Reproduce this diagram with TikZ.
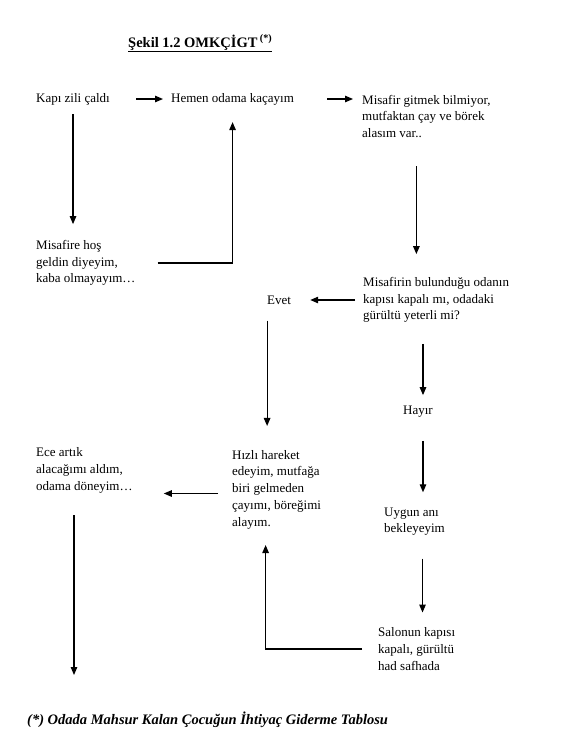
\documentclass[tikz,border=0pt]{standalone}
\usepackage{fontspec}
\setmainfont{Liberation Serif}
\usepackage{tikz}
\usetikzlibrary{arrows.meta, positioning, calc}

\begin{document}
\begin{tikzpicture}[x=1pt, y=-1pt,
    txt/.style={anchor=west, align=left, inner sep=0pt, font=\fontsize{13}{16.7}\selectfont},
    flow/.style={-{Triangle[length=8pt, width=6.5pt]}, line width=1.2pt}]
  \useasboundingbox (0,0) rectangle (566,748);

  % Title
  \node[anchor=base west, inner sep=0pt, font=\fontsize{14.5}{16}\selectfont\bfseries] (title) at (128,47)
    {\underline{Şekil 1.2 OMKÇİGT\,\textsuperscript{(*)}}};

  % Top row
  \node[txt] (kapi) at (36,99) {Kapı zili çaldı};
  \node[txt] (hemen) at (171,99) {Hemen odama kaçayım};
  \node[txt] (misafir) at (362,116.5) {Misafir gitmek bilmiyor,\\mutfaktan çay ve börek\\alasım var..};
  \node[txt] (hos) at (36,263) {Misafire hoş\\geldin diyeyim,\\kaba olmayayım…};

  % Question
  \node[txt] (soru) at (363,300) {Misafirin bulunduğu odanın\\kapısı kapalı mı, odadaki\\gürültü yeterli mi?};
  \node[txt] (evet) at (267,300) {Evet};
  \node[txt] (hayir) at (403,412) {Hayır};
  \node[txt] (uygun) at (384,521.5) {Uygun anı\\bekleyeyim};

  % Bottom row
  \node[txt] (hizli) at (232,489.5) {Hızlı hareket\\edeyim, mutfağa\\biri gelmeden\\çayımı, böreğimi\\alayım.};
  \node[txt] (ece) at (36,470.5) {Ece artık\\alacağımı aldım,\\odama döneyim…};
  \node[txt] (salon) at (378,649) {Salonun kapısı\\kapalı, gürültü\\had safhada};
  \coordinate (son) at (74,675);

  % Footnote
  \node[txt, font=\fontsize{14.5}{16}\selectfont\bfseries\itshape] (note) at (27,720)
    {(*) Odada Mahsur Kalan Çocuğun İhtiyaç Giderme Tablosu};

  % Arrows
  \draw[flow, shorten <=26pt, shorten >=8pt] (kapi.east) -- (hemen.west);
  \draw[flow, shorten <=33pt, shorten >=9pt] (hemen.east) -- (hemen.east -| misafir.west);
  \draw[flow, shorten <=9pt, shorten >=16pt] (kapi.south) -- (kapi.south |- hos.north);
  \draw[flow, shorten <=22pt, shorten >=17pt] (hos.east) -| (hemen.south);
  \draw[flow, shorten <=28pt, shorten >=23pt] ([xshift=-10pt]misafir.south) -- ([xshift=-10pt]misafir.south |- soru.north);
  \draw[flow, shorten <=8pt, shorten >=19pt] (soru.west) -- (evet.east);
  \draw[flow, shorten <=16pt, shorten >=24pt] ([xshift=-12pt]evet.south) -- ([xshift=-12pt]evet.south |- hizli.north);
  \draw[flow, shorten <=21pt, shorten >=11pt] ([xshift=5pt]hayir.north |- soru.south) -- ([xshift=5pt]hayir.north);
  \draw[flow, shorten <=23pt, shorten >=15pt] ([xshift=5pt]hayir.south) -- ([xshift=5pt]hayir.south |- uygun.north);
  \draw[flow, shorten <=23pt, shorten >=15pt] ([xshift=8pt]uygun.south) -- ([xshift=8pt]uygun.south |- salon.north);
  \draw[flow, shorten <=16pt, shorten >=16pt] (salon.west) -| ([xshift=-11pt]hizli.south);
  \draw[flow, shorten <=14pt, shorten >=31pt] ([yshift=-4pt]hizli.west) -- ([yshift=-4pt]hizli.west -| ece.east);
  \draw[flow, shorten <=22pt] (ece.south -| son) -- (son);
\end{tikzpicture}
\end{document}
